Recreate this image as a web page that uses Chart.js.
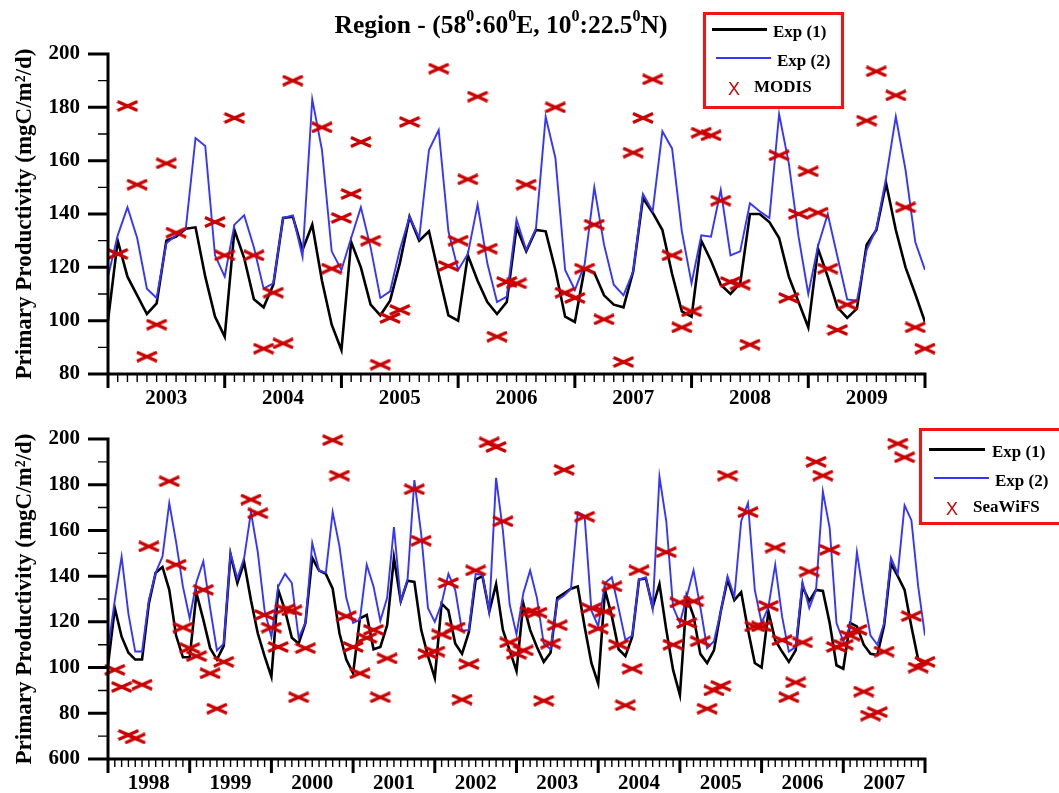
<!DOCTYPE html>
<html>
<head>
<meta charset="utf-8">
<script src="https://cdn.jsdelivr.net/npm/chart.js@4"></script>
<style>
  body { margin: 0; background: #fff; }
  #wrap { position: relative; width: 1059px; height: 793px; overflow: hidden; background: #fff; }
  #wrap canvas { position: absolute; left: 0; }
  .txt { position: absolute; font-family: 'Liberation Serif', 'Times New Roman', serif; font-weight: bold; color: #000; white-space: nowrap; }
  .leg { font-size: 17px; line-height: 17px; }
  .box { position: absolute; box-sizing: border-box; border: 3px solid #f01515; }
  .swatch { position: absolute; }
  .mark { position: absolute; font-family: 'Liberation Sans', Arial, sans-serif; font-size: 18px; line-height: 18px; color: #cc0000; }
  .title { left: 0; top: 12px; width: 1002px; text-align: center; font-size: 25.5px; line-height: 25px; }
  .title span { font-size: 16px; vertical-align: 12px; line-height: 0; }
</style>
</head>
<body>
<div id="wrap">
  <canvas id="topChart" width="1059" height="415" style="top:0"></canvas>
  <canvas id="bottomChart" width="1059" height="378" style="top:415px"></canvas>

  <div class="txt title">Region - (58<span>0</span>:60<span>0</span>E, 10<span>0</span>:22.5<span>0</span>N)</div>

  <!-- legend, upper panel -->
  <div class="box" style="left:703px;top:12px;width:141px;height:97px"></div>
  <div class="swatch" style="left:712px;top:27.5px;width:55px;height:3px;background:#000"></div>
  <div class="txt leg" style="left:773px;top:22.5px">Exp (1)</div>
  <div class="swatch" style="left:716px;top:57px;width:55px;height:2px;background:#3535ff"></div>
  <div class="txt leg" style="left:777px;top:52px">Exp (2)</div>
  <div class="mark" style="left:728px;top:80px">X</div>
  <div class="txt leg" style="left:754px;top:78px">MODIS</div>

  <!-- legend, lower panel -->
  <div class="box" style="left:919px;top:428px;width:170px;height:97px"></div>
  <div class="swatch" style="left:929px;top:448px;width:56px;height:3px;background:#000"></div>
  <div class="txt leg" style="left:992px;top:442.5px">Exp (1)</div>
  <div class="swatch" style="left:934px;top:477px;width:55px;height:2px;background:#3535ff"></div>
  <div class="txt leg" style="left:995px;top:471.5px">Exp (2)</div>
  <div class="mark" style="left:946px;top:500px">X</div>
  <div class="txt leg" style="left:973px;top:497.5px">SeaWiFS</div>
</div>

<script>
// Monthly primary productivity, 2003-2009 (85 monthly nodes, Jan 2003 .. Jan 2010)
const yearsTop = ['2003', '2004', '2005', '2006', '2007', '2008', '2009'];
const exp1Top = [
  100, 130, 116.5, 109.5, 102.5, 106.5, 130, 131.5, 134.5, 135,
  116.5, 101.5, 94, 134, 123.5, 108, 105, 113.5, 138.5, 139,
  126.5, 136, 115, 98.5, 89, 129.5, 120, 106, 102, 107.5,
  121.5, 139, 130, 133.5, 117.5, 102, 100, 124.5, 115, 107,
  102.5, 107, 135, 126, 134, 133.5, 119, 101.5, 99.5, 119.5,
  118, 109.5, 106, 105, 118.5, 146, 140.5, 134, 117.5, 103.5,
  101.5, 130, 122.5, 113.5, 110, 114, 140, 140, 137, 131,
  116.5, 107, 97.5, 127, 116.5, 105, 101, 104.5, 128.5, 134,
  151.5, 134, 120, 110, 99.5
];
const exp2Top = [
  116.5, 132, 142.5, 131, 112, 108.5, 129, 132, 134.5, 168.5,
  165.5, 124.5, 116.5, 136, 139.5, 127.5, 112, 114, 138.5, 139.5,
  124, 183, 164, 126, 119, 131, 142.5, 127.5, 108.5, 111,
  126.5, 139, 131, 164, 171.5, 133.5, 119, 125, 143.5, 121.5,
  107, 109, 138, 126.5, 134.5, 176.5, 161, 119, 111.5, 121,
  150, 128.5, 113.5, 109.5, 118.5, 147.5, 141, 171, 164.5, 133.5,
  114, 132, 131.5, 149, 124.5, 126, 144, 141, 138.5, 177.5,
  159, 131.5, 110, 128, 140, 124, 108, 107.5, 126.5, 134.5,
  153.5, 176.5, 156.5, 129.5, 119
];
const modis = [
  null, 125, 180.5, 151, 86.5, 98.5, 159, 133, null, null,
  null, 137, 124.5, 176, null, 124.5, 89.5, 110.5, 91.5, 190,
  null, null, 172.5, 119.5, 138.5, 147.5, 167, 130, 83.5, 101,
  104, 174.5, null, null, 194.5, 120.5, 130, 153, 184, 127,
  94, 114.5, 114, 151, null, null, 180, 110.5, 108.5, 119.5,
  136, 100.5, null, 84.5, 163, 176, 190.5, null, 124.5, 97.5,
  103.5, 170.5, 169.5, 145, 114.5, 113.5, 91, null, null, 162,
  108.5, 140, 156, 140.5, 119.5, 96.5, 106, null, 175, 193.5,
  null, 184.5, 142.5, 97.5, 89.5
];

// Monthly primary productivity, 1998-2007 (121 monthly nodes, Jan 1998 .. Jan 2008)
const yearsBottom = ['1998', '1999', '2000', '2001', '2002', '2003', '2004', '2005', '2006', '2007'];
const exp1Bottom = [
  101, 126, 113.5, 106.5, 103.5, 103.5, 128, 141.5, 144, 134,
  114, 104.5, 104.5, 132.5, 121, 108.5, 103.5, 109.5, 149.5, 137,
  146, 129.5, 115, 105, 96, 134, 125, 113, 110.5, 119.5,
  148, 142.5, 141, 134.5, 115, 103.5, 97.5, 121.5, 123, 108,
  109, 118.5, 148, 129, 138, 137.5, 116.5, 105, 95.5, 128,
  125, 110.5, 106, 115.5, 138.5, 140, 124.5, 136.5, 116.5, 107.5,
  98.5, 128, 116.5, 109, 102.5, 106.5, 130.5, 132.5, 134.5, 135.5,
  118, 102, 93, 134, 122.5, 108, 105, 113.5, 138.5, 139,
  126.5, 136.5, 116.5, 99, 88, 131, 122.5, 106, 102, 107.5,
  124.5, 138.5, 129.5, 133, 116.5, 102, 100, 124.5, 112, 107,
  102.5, 107.5, 135.5, 129, 134, 133.5, 119.5, 101, 99.5, 119.5,
  118, 110, 106, 105.5, 118.5, 145.5, 140, 134, 118, 103.5,
  102
];
const exp2Bottom = [
  108, 129.5, 148.5, 123.5, 107, 107, 129.5, 141.5, 148.5, 172,
  155, 135.5, 121.5, 137.5, 146.5, 126, 107.5, 110.5, 150, 139,
  148, 168, 150.5, 125, 113.5, 135.5, 141, 137, 113, 119.5,
  154.5, 142.5, 141.5, 168, 153, 130.5, 119.5, 121, 145, 135.5,
  120.5, 130.5, 161.5, 129, 138.5, 182, 158.5, 126, 120, 128,
  141, 134, 116, 116.5, 141, 140.5, 124.5, 183, 160, 127.5,
  114.5, 132.5, 142.5, 130.5, 110.5, 108, 129.5, 131.5, 134.5, 168,
  166.5, 125, 118, 137, 139.5, 126, 112, 114, 138.5, 139.5,
  125.5, 183.5, 164, 126.5, 119.5, 131, 142.5, 126.5, 108.5, 111.5,
  124.5, 140, 131, 164, 172, 134, 119.5, 126.5, 145, 122.5,
  107, 109, 137.5, 126, 134, 177, 161, 119.5, 111.5, 118,
  150.5, 131, 114, 110, 119.5, 148, 141, 171, 164.5, 135.5,
  114
];
const seawifs = [
  null, 99, 91.5, 70.5, 69, 92.5, 153, null, null, 181.5,
  145, 117.5, 108.5, 105, 134, 97.5, 82, 102.5, null, null,
  null, 173.5, 167.5, 123, 117.5, 109, 125.5, 125, 87, 108.5,
  null, null, null, 199.5, 184, 122.5, 109, 97.5, 113, 116.5,
  87, 104, null, null, null, 178, 155.5, 106, 107, 114.5,
  137, 117.5, 86, 101.5, 142.5, null, 198.5, 196.5, 164, 111,
  106, 107.5, 124.5, 124, 85.5, 110.5, 118.5, 186.5, null, null,
  166, 126, 117, 124.5, 135.5, 110, 83.5, 99.5, 142.5, null,
  null, null, 150.5, 110, 128.5, 119.5, 129, 111.5, 82, 90,
  92, 184, null, null, 168, 118, 118, 127, 152.5, 112,
  87, 93.5, 111, 142, 190, 184, 151.5, 109, 110, 114,
  116.5, 89.5, 79, 80.5, 107, null, 198, 192, 122.5, 100,
  102.5
];

const serif = "'Liberation Serif', 'Times New Roman', serif";

// flat red cross used for the satellite estimates
const cross = document.createElement('canvas');
cross.width = 22;
cross.height = 12;
(() => {
  const c = cross.getContext('2d');
  c.strokeStyle = '#cc0000';
  c.lineWidth = 3.2;
  c.beginPath();
  c.moveTo(1, 1.5); c.lineTo(21, 10.5);
  c.moveTo(1, 10.5); c.lineTo(21, 1.5);
  c.stroke();
})();

// axis lines plus major/minor tick marks, drawn outward
const frame = {
  id: 'frame',
  afterDraw(chart) {
    const { ctx, chartArea: a, scales: { x, y } } = chart;
    ctx.save();
    ctx.strokeStyle = '#000';
    ctx.lineCap = 'butt';

    ctx.lineWidth = 1.4;
    ctx.beginPath();
    for (let m = 1; m < x.max; m++) {
      if (m % 12 === 0) continue;
      const px = x.getPixelForValue(m);
      ctx.moveTo(px, a.bottom);
      ctx.lineTo(px, a.bottom + 8);
    }
    for (let v = y.min + 10; v < y.max; v += 20) {
      const py = y.getPixelForValue(v);
      ctx.moveTo(a.left, py);
      ctx.lineTo(a.left - 10, py);
    }
    ctx.stroke();

    ctx.lineWidth = 3;
    ctx.beginPath();
    for (let m = 0; m <= x.max; m += 12) {
      const px = x.getPixelForValue(m);
      ctx.moveTo(px, a.bottom);
      ctx.lineTo(px, a.bottom + 14);
    }
    for (let v = y.min; v <= y.max; v += 20) {
      const py = y.getPixelForValue(v);
      ctx.moveTo(a.left, py);
      ctx.lineTo(a.left - 20, py);
    }
    ctx.moveTo(a.left, a.top - 1.5);
    ctx.lineTo(a.left, a.bottom + 1.5);
    ctx.moveTo(a.left - 1.5, a.bottom);
    ctx.lineTo(a.right + 1.5, a.bottom);
    ctx.stroke();
    ctx.restore();
  }
};

function buildChart(canvas, years, exp1, exp2, obs, obsLabel, yMin, areaTop, areaBottom) {
  const pts = arr => arr.map((v, i) => ({ x: i, y: v }));
  const tickFont = { family: serif, weight: 'bold', size: 21 };
  return new Chart(canvas, {
    type: 'line',
    data: {
      datasets: [
        { label: obsLabel, data: pts(obs), showLine: false, pointStyle: cross, pointRadius: 10, clip: false },
        { label: 'Exp (2)', data: pts(exp2), borderColor: '#3535ff', borderWidth: 1.9, pointRadius: 0, tension: 0 },
        { label: 'Exp (1)', data: pts(exp1), borderColor: '#000', borderWidth: 2.6, pointRadius: 0, tension: 0 }
      ]
    },
    options: {
      responsive: false,
      animation: false,
      events: [],
      layout: { padding: { top: areaTop, right: 134, left: 0, bottom: 0 } },
      plugins: { legend: { display: false }, tooltip: { enabled: false } },
      scales: {
        x: {
          type: 'linear',
          min: 0,
          max: exp1.length - 1,
          grid: { display: false, drawTicks: false },
          border: { display: false },
          afterBuildTicks: ax => { ax.ticks = years.map((_, k) => ({ value: 6 + 12 * k })); },
          afterFit: ax => { ax.height = canvas.height - areaBottom; },
          ticks: {
            autoSkip: false, maxRotation: 0, padding: 12, color: '#000', font: tickFont,
            callback: (v, i) => years[i]
          }
        },
        y: {
          min: yMin,
          max: 200,
          // tick marks themselves come from the frame plugin; tickLength only spaces the labels
          grid: { display: false, drawTicks: true, tickLength: 28 },
          border: { display: false },
          afterFit: ax => { ax.width = 108; },
          ticks: {
            stepSize: 20, padding: 0, color: '#000', font: tickFont,
            callback: v => (v === 60 ? '600' : String(v))
          },
          title: {
            display: true,
            text: 'Primary Productivity (mgC/m\u00b2/d)',
            color: '#000',
            font: { family: serif, weight: 'bold', size: 23 },
            padding: { top: 11, bottom: 0 }
          }
        }
      }
    },
    plugins: [frame]
  });
}

buildChart(document.getElementById('topChart'), yearsTop, exp1Top, exp2Top, modis, 'MODIS', 80, 54, 374);
buildChart(document.getElementById('bottomChart'), yearsBottom, exp1Bottom, exp2Bottom, seawifs, 'SeaWiFS', 60, 24, 344);
</script>
</body>
</html>
